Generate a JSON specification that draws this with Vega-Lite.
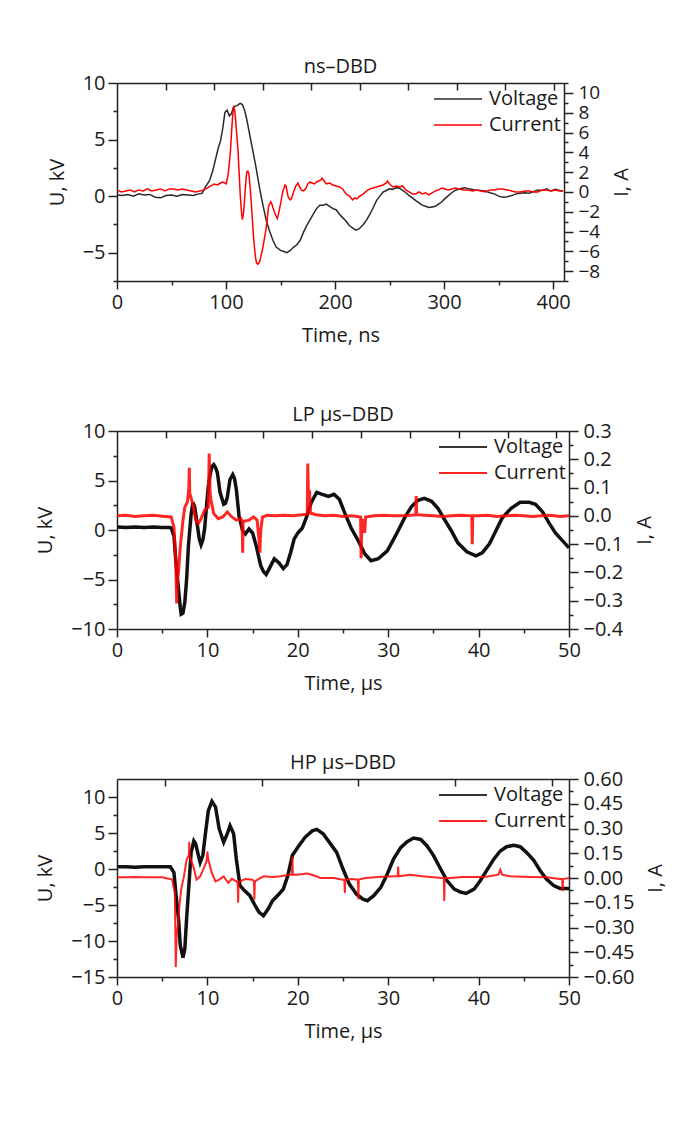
{
  "$schema": "https://vega.github.io/schema/vega-lite/v6.json",
  "background": "white",
  "autosize": {"type": "pad"},
  "padding": {"left": 35, "top": 57, "right": 5, "bottom": 5},
  "datasets": {
    "ns_v": [
      {"t":0,"v":0.1},{"t":5,"v":0.05},{"t":10,"v":0.15},{"t":15,"v":0.0},{"t":20,"v":0.2},{"t":25,"v":0.1},{"t":30,"v":0.15},{"t":35,"v":-0.1},{"t":40,"v":-0.15},{"t":45,"v":0.05},{"t":50,"v":0.1},{"t":55,"v":0.0},{"t":60,"v":0.15},{"t":65,"v":0.1},{"t":70,"v":0.05},{"t":75,"v":0.2},{"t":78,"v":0.25},{"t":81,"v":0.8},{"t":85,"v":1.4},{"t":88,"v":2.3},{"t":91,"v":3.5},{"t":93,"v":4.3},{"t":95,"v":4.9},{"t":97,"v":6.0},{"t":99,"v":7.4},{"t":101,"v":7.6},{"t":103,"v":7.1},{"t":105,"v":7.3},{"t":107,"v":7.9},{"t":110,"v":8.0},{"t":113,"v":8.2},{"t":115,"v":8.1},{"t":117,"v":7.6},{"t":119,"v":6.8},{"t":121,"v":5.8},{"t":123,"v":4.8},{"t":125,"v":3.8},{"t":127,"v":2.8},{"t":129,"v":1.7},{"t":131,"v":0.6},{"t":133,"v":-0.4},{"t":135,"v":-1.3},{"t":137,"v":-2.2},{"t":140,"v":-3.1},{"t":143,"v":-3.9},{"t":146,"v":-4.5},{"t":150,"v":-4.8},{"t":153,"v":-4.9},{"t":156,"v":-5.0},{"t":159,"v":-4.8},{"t":162,"v":-4.5},{"t":165,"v":-4.3},{"t":168,"v":-3.9},{"t":171,"v":-3.2},{"t":174,"v":-2.6},{"t":177,"v":-2.1},{"t":180,"v":-1.6},{"t":183,"v":-1.1},{"t":186,"v":-0.8},{"t":189,"v":-0.8},{"t":192,"v":-0.7},{"t":195,"v":-0.9},{"t":198,"v":-1.1},{"t":201,"v":-1.2},{"t":204,"v":-1.6},{"t":207,"v":-1.9},{"t":210,"v":-2.2},{"t":213,"v":-2.6},{"t":216,"v":-2.8},{"t":219,"v":-3.0},{"t":222,"v":-2.9},{"t":226,"v":-2.5},{"t":229,"v":-2.1},{"t":232,"v":-1.6},{"t":235,"v":-1.0},{"t":238,"v":-0.4},{"t":241,"v":0.0},{"t":244,"v":0.35},{"t":247,"v":0.5},{"t":250,"v":0.65},{"t":253,"v":0.6},{"t":256,"v":0.75},{"t":259,"v":0.7},{"t":262,"v":0.5},{"t":265,"v":0.3},{"t":268,"v":0.05},{"t":271,"v":-0.15},{"t":274,"v":-0.4},{"t":277,"v":-0.6},{"t":280,"v":-0.8},{"t":283,"v":-0.9},{"t":286,"v":-1.0},{"t":289,"v":-0.95},{"t":292,"v":-0.9},{"t":295,"v":-0.7},{"t":298,"v":-0.5},{"t":301,"v":-0.2},{"t":304,"v":0.05},{"t":307,"v":0.3},{"t":310,"v":0.5},{"t":313,"v":0.6},{"t":316,"v":0.7},{"t":319,"v":0.75},{"t":322,"v":0.65},{"t":325,"v":0.6},{"t":328,"v":0.55},{"t":333,"v":0.5},{"t":338,"v":0.45},{"t":342,"v":0.3},{"t":346,"v":0.2},{"t":350,"v":0.0},{"t":354,"v":-0.1},{"t":358,"v":-0.05},{"t":362,"v":0.05},{"t":366,"v":0.2},{"t":370,"v":0.25},{"t":374,"v":0.3},{"t":378,"v":0.25},{"t":382,"v":0.4},{"t":386,"v":0.55},{"t":390,"v":0.5},{"t":394,"v":0.65},{"t":398,"v":0.45},{"t":402,"v":0.6},{"t":406,"v":0.5},{"t":409,"v":0.45}
    ],
    "ns_i": [
      {"t":0,"v":0.2},{"t":4,"v":0.0},{"t":8,"v":0.1},{"t":12,"v":0.2},{"t":16,"v":0.0},{"t":20,"v":0.2},{"t":24,"v":0.1},{"t":28,"v":0.3},{"t":32,"v":0.1},{"t":36,"v":0.2},{"t":40,"v":0.3},{"t":44,"v":0.1},{"t":48,"v":0.3},{"t":52,"v":0.3},{"t":56,"v":0.2},{"t":60,"v":0.3},{"t":64,"v":0.2},{"t":68,"v":0.1},{"t":72,"v":0.0},{"t":76,"v":0.1},{"t":80,"v":0.2},{"t":83,"v":0.4},{"t":86,"v":0.6},{"t":89,"v":0.8},{"t":92,"v":0.7},{"t":95,"v":0.9},{"t":97,"v":1.0},{"t":99,"v":0.9},{"t":100,"v":0.8},{"t":101,"v":1.2},{"t":102,"v":1.8},{"t":104,"v":4.0},{"t":105,"v":5.9},{"t":106,"v":7.6},{"t":107,"v":8.7},{"t":108,"v":8.2},{"t":109,"v":7.0},{"t":110,"v":5.6},{"t":111,"v":4.2},{"t":112,"v":2.0},{"t":113,"v":-0.2},{"t":114,"v":-1.8},{"t":115,"v":-2.8},{"t":116,"v":-2.2},{"t":117,"v":-0.8},{"t":118,"v":0.8},{"t":119,"v":2.0},{"t":120,"v":2.1},{"t":121,"v":1.8},{"t":122,"v":0.6},{"t":123,"v":-0.8},{"t":124,"v":-2.5},{"t":125,"v":-4.2},{"t":126,"v":-5.5},{"t":127,"v":-6.6},{"t":128,"v":-7.2},{"t":129,"v":-7.3},{"t":130,"v":-7.2},{"t":131,"v":-7.0},{"t":132,"v":-6.5},{"t":134,"v":-5.5},{"t":136,"v":-4.2},{"t":137,"v":-3.5},{"t":138,"v":-2.5},{"t":139,"v":-1.5},{"t":140,"v":-1.2},{"t":141,"v":-1.0},{"t":142,"v":-1.2},{"t":143,"v":-1.6},{"t":145,"v":-2.2},{"t":147,"v":-2.7},{"t":148,"v":-2.3},{"t":150,"v":-1.2},{"t":152,"v":0.0},{"t":154,"v":0.7},{"t":155,"v":0.6},{"t":157,"v":-0.5},{"t":159,"v":-0.8},{"t":160,"v":-0.7},{"t":162,"v":0.0},{"t":164,"v":0.6},{"t":166,"v":0.9},{"t":167,"v":0.6},{"t":169,"v":0.2},{"t":171,"v":0.1},{"t":173,"v":0.3},{"t":175,"v":0.8},{"t":177,"v":1.0},{"t":179,"v":0.9},{"t":181,"v":0.8},{"t":183,"v":1.0},{"t":185,"v":1.1},{"t":187,"v":1.2},{"t":188,"v":1.4},{"t":190,"v":1.1},{"t":192,"v":0.8},{"t":195,"v":0.9},{"t":198,"v":0.7},{"t":201,"v":0.6},{"t":204,"v":0.5},{"t":207,"v":0.3},{"t":210,"v":-0.2},{"t":213,"v":-0.4},{"t":216,"v":-0.8},{"t":218,"v":-0.6},{"t":220,"v":-0.7},{"t":223,"v":-0.4},{"t":226,"v":-0.2},{"t":229,"v":0.1},{"t":232,"v":0.3},{"t":235,"v":0.4},{"t":238,"v":0.5},{"t":241,"v":0.6},{"t":244,"v":0.7},{"t":247,"v":0.9},{"t":248,"v":1.1},{"t":250,"v":0.8},{"t":253,"v":0.5},{"t":256,"v":0.6},{"t":259,"v":0.5},{"t":262,"v":0.6},{"t":265,"v":0.2},{"t":268,"v":0.0},{"t":271,"v":-0.2},{"t":274,"v":-0.2},{"t":277,"v":0.0},{"t":280,"v":-0.2},{"t":283,"v":-0.1},{"t":286,"v":-0.3},{"t":289,"v":-0.1},{"t":292,"v":0.1},{"t":295,"v":0.2},{"t":298,"v":0.4},{"t":301,"v":0.3},{"t":304,"v":0.2},{"t":307,"v":0.3},{"t":310,"v":0.4},{"t":314,"v":0.3},{"t":318,"v":0.2},{"t":322,"v":0.2},{"t":326,"v":0.1},{"t":330,"v":0.2},{"t":334,"v":0.1},{"t":338,"v":0.0},{"t":342,"v":0.2},{"t":346,"v":0.2},{"t":350,"v":0.3},{"t":354,"v":0.3},{"t":358,"v":0.2},{"t":362,"v":0.1},{"t":366,"v":0.0},{"t":370,"v":0.0},{"t":374,"v":0.1},{"t":378,"v":0.1},{"t":382,"v":0.0},{"t":386,"v":0.0},{"t":390,"v":0.2},{"t":394,"v":0.2},{"t":398,"v":0.1},{"t":402,"v":0.2},{"t":406,"v":0.1},{"t":409,"v":0.1}
    ],
    "lp_v": [
      {"t":0,"v":0.3},{"t":1,"v":0.25},{"t":2,"v":0.3},{"t":3,"v":0.25},{"t":4,"v":0.3},{"t":5,"v":0.25},{"t":5.8,"v":0.25},{"t":6.0,"v":0.2},{"t":6.3,"v":-0.6},{"t":6.5,"v":-3.0},{"t":6.8,"v":-6.0},{"t":7.0,"v":-7.8},{"t":7.1,"v":-8.5},{"t":7.3,"v":-8.4},{"t":7.5,"v":-7.3},{"t":7.7,"v":-5.0},{"t":7.9,"v":-1.6},{"t":8.2,"v":1.6},{"t":8.4,"v":2.8},{"t":8.6,"v":2.3},{"t":8.9,"v":0.4},{"t":9.1,"v":-0.9},{"t":9.3,"v":-1.5},{"t":9.5,"v":-1.0},{"t":9.7,"v":0.2},{"t":9.9,"v":2.4},{"t":10.1,"v":4.4},{"t":10.3,"v":5.6},{"t":10.5,"v":6.4},{"t":10.7,"v":6.6},{"t":10.9,"v":6.3},{"t":11.1,"v":5.8},{"t":11.4,"v":3.8},{"t":11.8,"v":2.6},{"t":12.0,"v":2.7},{"t":12.2,"v":3.3},{"t":12.5,"v":5.1},{"t":12.8,"v":5.6},{"t":13.0,"v":5.2},{"t":13.2,"v":4.1},{"t":13.5,"v":1.4},{"t":13.9,"v":-0.1},{"t":14.2,"v":-0.4},{"t":14.6,"v":0.1},{"t":15.0,"v":-0.3},{"t":15.4,"v":-1.6},{"t":15.9,"v":-3.6},{"t":16.2,"v":-4.2},{"t":16.5,"v":-4.5},{"t":16.9,"v":-3.8},{"t":17.4,"v":-2.9},{"t":17.9,"v":-3.3},{"t":18.4,"v":-3.9},{"t":18.8,"v":-3.5},{"t":19.2,"v":-2.3},{"t":19.6,"v":-0.9},{"t":20.0,"v":-0.3},{"t":20.5,"v":0.2},{"t":21.0,"v":1.4},{"t":21.5,"v":2.8},{"t":22.1,"v":3.8},{"t":22.7,"v":3.6},{"t":23.4,"v":3.4},{"t":24.0,"v":3.6},{"t":24.6,"v":3.1},{"t":25.2,"v":1.7},{"t":25.9,"v":0.2},{"t":26.7,"v":-1.1},{"t":27.4,"v":-2.4},{"t":28.1,"v":-3.1},{"t":28.9,"v":-2.9},{"t":29.9,"v":-2.1},{"t":30.8,"v":-0.6},{"t":31.8,"v":1.2},{"t":32.6,"v":2.4},{"t":33.3,"v":3.0},{"t":34.0,"v":3.2},{"t":34.8,"v":2.9},{"t":35.5,"v":2.2},{"t":36.2,"v":1.1},{"t":37.0,"v":-0.1},{"t":37.7,"v":-1.3},{"t":38.7,"v":-2.2},{"t":39.7,"v":-2.6},{"t":40.4,"v":-2.3},{"t":41.2,"v":-1.4},{"t":41.9,"v":-0.1},{"t":42.6,"v":1.2},{"t":43.6,"v":2.2},{"t":44.6,"v":2.8},{"t":45.6,"v":2.8},{"t":46.3,"v":2.6},{"t":47.1,"v":1.8},{"t":47.8,"v":0.7},{"t":48.5,"v":-0.3},{"t":49.3,"v":-1.1},{"t":50,"v":-1.8}
    ],
    "lp_i": [
      {"t":0,"v":0.0},{"t":1,"v":0.002},{"t":2,"v":-0.002},{"t":3,"v":0.0},{"t":4,"v":0.002},{"t":5,"v":-0.001},{"t":6.0,"v":-0.004},{"t":6.3,"v":-0.04},{"t":6.5,"v":-0.16},{"t":6.6,"v":-0.31},{"t":6.7,"v":-0.22},{"t":6.8,"v":-0.2},{"t":7.0,"v":-0.11},{"t":7.3,"v":-0.015},{"t":7.5,"v":0.03},{"t":7.8,"v":0.05},{"t":7.95,"v":0.1},{"t":8.0,"v":0.17},{"t":8.05,"v":0.08},{"t":8.4,"v":0.04},{"t":8.7,"v":-0.015},{"t":9.0,"v":-0.027},{"t":9.3,"v":-0.01},{"t":9.7,"v":0.02},{"t":10.1,"v":0.03},{"t":10.2,"v":0.22},{"t":10.3,"v":0.08},{"t":10.4,"v":0.055},{"t":10.7,"v":0.008},{"t":11.2,"v":-0.01},{"t":11.7,"v":-0.004},{"t":12.2,"v":0.014},{"t":12.7,"v":-0.004},{"t":13.2,"v":-0.015},{"t":13.7,"v":-0.01},{"t":13.85,"v":-0.02},{"t":13.9,"v":-0.13},{"t":13.95,"v":-0.02},{"t":14.6,"v":-0.015},{"t":15.1,"v":-0.004},{"t":15.5,"v":-0.015},{"t":15.7,"v":-0.08},{"t":15.8,"v":-0.13},{"t":15.9,"v":-0.05},{"t":16.1,"v":-0.004},{"t":16.6,"v":0.002},{"t":17.5,"v":0.0},{"t":18.5,"v":0.002},{"t":19.5,"v":0.0},{"t":20.5,"v":0.004},{"t":21.05,"v":0.006},{"t":21.1,"v":0.185},{"t":21.2,"v":0.02},{"t":21.3,"v":0.09},{"t":21.4,"v":0.01},{"t":22,"v":0.004},{"t":23,"v":0.0},{"t":24,"v":0.002},{"t":25,"v":-0.002},{"t":26,"v":0.0},{"t":26.95,"v":-0.004},{"t":27.0,"v":-0.15},{"t":27.1,"v":-0.01},{"t":27.4,"v":-0.06},{"t":27.5,"v":-0.004},{"t":28.5,"v":0.0},{"t":29.5,"v":0.002},{"t":30.5,"v":0.0},{"t":31.5,"v":0.0},{"t":32.5,"v":0.002},{"t":33.05,"v":0.004},{"t":33.1,"v":0.07},{"t":33.15,"v":0.004},{"t":34,"v":0.002},{"t":35,"v":0.0},{"t":36,"v":-0.002},{"t":37,"v":0.0},{"t":38,"v":0.002},{"t":39.25,"v":0.0},{"t":39.3,"v":-0.1},{"t":39.35,"v":0.0},{"t":40,"v":0.0},{"t":41,"v":0.002},{"t":42,"v":-0.002},{"t":43,"v":0.0},{"t":44,"v":0.002},{"t":45,"v":0.0},{"t":46,"v":-0.002},{"t":47,"v":0.0},{"t":48,"v":0.002},{"t":49,"v":-0.002},{"t":50,"v":0.0}
    ],
    "hp_v": [
      {"t":0,"v":0.3},{"t":1,"v":0.3},{"t":2,"v":0.25},{"t":3,"v":0.3},{"t":4,"v":0.3},{"t":5,"v":0.3},{"t":5.9,"v":0.3},{"t":6.3,"v":-0.5},{"t":6.5,"v":-3.2},{"t":6.8,"v":-6.9},{"t":7.0,"v":-10.6},{"t":7.3,"v":-12.3},{"t":7.5,"v":-11.1},{"t":7.7,"v":-6.9},{"t":8.0,"v":-1.4},{"t":8.2,"v":2.3},{"t":8.5,"v":3.9},{"t":8.7,"v":3.5},{"t":9.0,"v":1.9},{"t":9.2,"v":0.9},{"t":9.5,"v":1.9},{"t":9.8,"v":5.1},{"t":10.1,"v":8.1},{"t":10.5,"v":9.4},{"t":10.9,"v":8.6},{"t":11.3,"v":5.6},{"t":11.8,"v":3.7},{"t":12.2,"v":4.9},{"t":12.5,"v":6.0},{"t":12.9,"v":4.9},{"t":13.2,"v":1.4},{"t":13.6,"v":-2.3},{"t":14.1,"v":-3.0},{"t":14.7,"v":-3.7},{"t":15.2,"v":-4.9},{"t":15.7,"v":-6.0},{"t":16.2,"v":-6.5},{"t":16.7,"v":-5.6},{"t":17.2,"v":-4.4},{"t":17.9,"v":-3.5},{"t":18.4,"v":-2.8},{"t":18.9,"v":-0.9},{"t":19.4,"v":1.9},{"t":20.1,"v":3.2},{"t":20.8,"v":4.4},{"t":21.6,"v":5.3},{"t":22.1,"v":5.5},{"t":22.8,"v":4.9},{"t":23.5,"v":3.7},{"t":24.3,"v":2.3},{"t":25.0,"v":0.0},{"t":25.7,"v":-2.1},{"t":26.5,"v":-3.5},{"t":27.2,"v":-4.2},{"t":27.7,"v":-4.4},{"t":28.4,"v":-3.7},{"t":29.2,"v":-2.5},{"t":29.9,"v":-0.7},{"t":30.6,"v":1.4},{"t":31.4,"v":3.0},{"t":32.1,"v":3.8},{"t":32.8,"v":4.3},{"t":33.6,"v":4.1},{"t":34.3,"v":3.2},{"t":35.0,"v":1.9},{"t":35.8,"v":0.0},{"t":36.5,"v":-1.6},{"t":37.3,"v":-2.8},{"t":38.0,"v":-3.2},{"t":38.6,"v":-3.4},{"t":39.5,"v":-2.8},{"t":40.2,"v":-1.6},{"t":40.9,"v":-0.2},{"t":41.7,"v":1.4},{"t":42.4,"v":2.5},{"t":43.1,"v":3.1},{"t":43.9,"v":3.3},{"t":44.6,"v":3.1},{"t":45.3,"v":2.3},{"t":46.1,"v":1.2},{"t":46.8,"v":-0.2},{"t":47.5,"v":-1.4},{"t":48.3,"v":-2.3},{"t":49.0,"v":-2.7},{"t":50,"v":-2.7}
    ],
    "hp_i": [
      {"t":0,"v":0.005},{"t":1,"v":0.004},{"t":2,"v":0.006},{"t":3,"v":0.004},{"t":4,"v":0.005},{"t":5,"v":0.005},{"t":6.1,"v":-0.01},{"t":6.4,"v":-0.09},{"t":6.5,"v":-0.54},{"t":6.6,"v":-0.35},{"t":6.7,"v":-0.3},{"t":6.9,"v":-0.17},{"t":7.1,"v":-0.07},{"t":7.4,"v":0.01},{"t":7.7,"v":0.11},{"t":7.95,"v":0.14},{"t":8.0,"v":0.22},{"t":8.05,"v":0.13},{"t":8.5,"v":0.06},{"t":8.8,"v":-0.01},{"t":9.2,"v":0.01},{"t":9.6,"v":0.06},{"t":9.9,"v":0.1},{"t":10.0,"v":0.16},{"t":10.1,"v":0.11},{"t":10.5,"v":0.03},{"t":10.9,"v":-0.02},{"t":11.3,"v":-0.01},{"t":11.8,"v":0.01},{"t":12.3,"v":-0.03},{"t":12.7,"v":-0.005},{"t":13.2,"v":-0.02},{"t":13.35,"v":-0.03},{"t":13.4,"v":-0.15},{"t":13.45,"v":-0.03},{"t":13.6,"v":-0.02},{"t":14.2,"v":-0.006},{"t":15.0,"v":-0.01},{"t":15.15,"v":-0.02},{"t":15.2,"v":-0.13},{"t":15.25,"v":-0.02},{"t":15.7,"v":-0.006},{"t":16.2,"v":0.01},{"t":17.2,"v":0.006},{"t":18.1,"v":0.01},{"t":19.1,"v":0.02},{"t":19.35,"v":0.02},{"t":19.4,"v":0.13},{"t":19.45,"v":0.02},{"t":19.9,"v":0.02},{"t":21.1,"v":0.027},{"t":21.8,"v":0.015},{"t":22.5,"v":0.0},{"t":24.0,"v":0.0},{"t":25.0,"v":-0.01},{"t":25.15,"v":-0.01},{"t":25.2,"v":-0.09},{"t":25.25,"v":-0.01},{"t":26.0,"v":-0.006},{"t":26.65,"v":-0.01},{"t":26.7,"v":-0.13},{"t":26.75,"v":-0.01},{"t":27.5,"v":0.0},{"t":28.9,"v":0.006},{"t":30.6,"v":0.01},{"t":31.05,"v":0.01},{"t":31.1,"v":0.07},{"t":31.15,"v":0.01},{"t":32.4,"v":0.02},{"t":33.8,"v":0.01},{"t":35.9,"v":0.0},{"t":36.15,"v":0.0},{"t":36.2,"v":-0.14},{"t":36.25,"v":0.0},{"t":36.8,"v":0.0},{"t":38.2,"v":0.006},{"t":40.7,"v":0.006},{"t":42.2,"v":0.02},{"t":42.4,"v":0.05},{"t":42.6,"v":0.02},{"t":43.5,"v":0.01},{"t":45.6,"v":0.006},{"t":47.5,"v":0.004},{"t":49.0,"v":-0.006},{"t":49.25,"v":-0.006},{"t":49.3,"v":-0.08},{"t":49.35,"v":-0.006},{"t":50,"v":0.0}
    ]
  },
  "spacing": 150,
  "bounds": "flush",
  "resolve": {"scale": {"color": "independent"}, "legend": {"color": "independent"}},
  "vconcat": [
    {
      "title": "ns–DBD",
      "width": 447,
      "height": 198,
      "layer": [
        {
          "data": {"name": "ns_v"},
          "mark": {"type": "line", "strokeWidth": 1.5},
          "encoding": {
            "x": {"field": "t", "type": "quantitative", "scale": {"domain": [0, 410], "nice": false, "zero": false},
              "axis": {"orient": "bottom", "title": "Time, ns", "values": [0,50,100,150,200,250,300,350,400],
                "labelExpr": "datum.value % 100 === 0 ? datum.label : ''",
                "tickSize": {"condition": {"test": "datum.value % 100 === 0", "value": 8}, "value": 4}}},
            "y": {"field": "v", "type": "quantitative", "scale": {"domain": [-7.5, 10], "nice": false, "zero": false},
              "axis": {"orient": "left", "title": "U, kV", "values": [-7.5,-5,-2.5,0,2.5,5,7.5,10],
                "labelExpr": "datum.value % 5 === 0 ? datum.label : ''",
                "tickSize": {"condition": {"test": "datum.value % 5 === 0", "value": 9}, "value": 4}}},
            "color": {"datum": "Voltage", "type": "nominal", "scale": {"domain": ["Voltage", "Current"], "range": ["#2a2a2a", "#ff0000"]},
              "legend": {"orient": "top-right", "title": null, "symbolStrokeWidth": 1.5}}
          }
        },
        {
          "data": {"name": "ns_i"},
          "mark": {"type": "line", "strokeWidth": 1.5},
          "encoding": {
            "x": {"field": "t", "type": "quantitative", "scale": {"domain": [0, 410], "nice": false, "zero": false},
              "axis": {"orient": "top", "title": null, "labels": false, "values": [44.5,89,133.5,178,222.5,267,311.5,356,400.5], "tickSize": -7}},
            "y": {"field": "v", "type": "quantitative", "scale": {"domain": [-9, 11], "nice": false, "zero": false},
              "axis": {"orient": "right", "title": "I, A", "labelFontSize": 19, "values": [-9,-8,-7,-6,-5,-4,-3,-2,-1,0,1,2,3,4,5,6,7,8,9,10,11],
                "labelExpr": "datum.value % 2 === 0 ? datum.label : ''",
                "tickSize": {"condition": {"test": "datum.value % 2 === 0", "value": 9}, "value": 4}}},
            "color": {"datum": "Current", "type": "nominal"}
          }
        }
      ],
      "resolve": {"scale": {"y": "independent"}, "axis": {"x": "independent", "y": "independent"}}
    },
    {
      "title": "LP µs–DBD",
      "width": 452,
      "height": 198,
      "layer": [
        {
          "data": {"name": "lp_v"},
          "mark": {"type": "line", "strokeWidth": 3.5},
          "encoding": {
            "x": {"field": "t", "type": "quantitative", "scale": {"domain": [0, 50], "nice": false, "zero": false},
              "axis": {"orient": "bottom", "title": "Time, µs", "values": [0,5,10,15,20,25,30,35,40,45,50],
                "labelExpr": "datum.value % 10 === 0 ? datum.label : ''",
                "tickSize": {"condition": {"test": "datum.value % 10 === 0", "value": 8}, "value": 4}}},
            "y": {"field": "v", "type": "quantitative", "scale": {"domain": [-10, 10], "nice": false, "zero": false},
              "axis": {"orient": "left", "title": "U, kV", "values": [-10,-7.5,-5,-2.5,0,2.5,5,7.5,10],
                "labelExpr": "datum.value % 5 === 0 ? datum.label : ''",
                "tickSize": {"condition": {"test": "datum.value % 5 === 0", "value": 9}, "value": 4}}},
            "color": {"datum": "Voltage", "type": "nominal", "scale": {"domain": ["Voltage", "Current"], "range": ["#111111", "#ff0000"]},
              "legend": {"orient": "top-right", "title": null, "symbolStrokeWidth": 2}}
          }
        },
        {
          "data": {"name": "lp_i"},
          "mark": {"type": "line", "strokeWidth": 3, "opacity": 0.85},
          "encoding": {
            "x": {"field": "t", "type": "quantitative", "scale": {"domain": [0, 50], "nice": false, "zero": false},
              "axis": {"orient": "top", "title": null, "labels": false, "values": [5.4,10.8,16.2,21.6,27,32.4,37.8,43.2,48.6], "tickSize": -7}},
            "y": {"field": "v", "type": "quantitative", "scale": {"domain": [-0.4, 0.3], "nice": false, "zero": false},
              "axis": {"orient": "right", "title": "I, A", "format": ".1f", "values": [-0.4,-0.35,-0.3,-0.25,-0.2,-0.15,-0.1,-0.05,0,0.05,0.1,0.15,0.2,0.25,0.3],
                "labelExpr": "abs(round(datum.value*100)) % 10 === 0 ? datum.label : ''",
                "tickSize": {"condition": {"test": "abs(round(datum.value*100)) % 10 === 0", "value": 9}, "value": 4}}},
            "color": {"datum": "Current", "type": "nominal"}
          }
        }
      ],
      "resolve": {"scale": {"y": "independent"}, "axis": {"x": "independent", "y": "independent"}}
    },
    {
      "title": "HP µs–DBD",
      "width": 452,
      "height": 198,
      "layer": [
        {
          "data": {"name": "hp_v"},
          "mark": {"type": "line", "strokeWidth": 3.5},
          "encoding": {
            "x": {"field": "t", "type": "quantitative", "scale": {"domain": [0, 50], "nice": false, "zero": false},
              "axis": {"orient": "bottom", "title": "Time, µs", "values": [0,5,10,15,20,25,30,35,40,45,50],
                "labelExpr": "datum.value % 10 === 0 ? datum.label : ''",
                "tickSize": {"condition": {"test": "datum.value % 10 === 0", "value": 8}, "value": 4}}},
            "y": {"field": "v", "type": "quantitative", "scale": {"domain": [-15, 12.5], "nice": false, "zero": false},
              "axis": {"orient": "left", "title": "U, kV", "values": [-15,-12.5,-10,-7.5,-5,-2.5,0,2.5,5,7.5,10],
                "labelExpr": "datum.value % 5 === 0 ? datum.label : ''",
                "tickSize": {"condition": {"test": "datum.value % 5 === 0", "value": 9}, "value": 4}}},
            "color": {"datum": "Voltage", "type": "nominal", "scale": {"domain": ["Voltage", "Current"], "range": ["#111111", "#ff0000"]},
              "legend": {"orient": "top-right", "title": null, "symbolStrokeWidth": 2}}
          }
        },
        {
          "data": {"name": "hp_i"},
          "mark": {"type": "line", "strokeWidth": 2, "opacity": 0.85},
          "encoding": {
            "x": {"field": "t", "type": "quantitative", "scale": {"domain": [0, 50], "nice": false, "zero": false},
              "axis": {"orient": "top", "title": null, "labels": false, "values": [5.3,16,26.7,37.4,48.1], "tickSize": -7}},
            "y": {"field": "v", "type": "quantitative", "scale": {"domain": [-0.6, 0.6], "nice": false, "zero": false},
              "axis": {"orient": "right", "title": "I, A", "format": ".2f", "values": [-0.6,-0.525,-0.45,-0.375,-0.3,-0.225,-0.15,-0.075,0,0.075,0.15,0.225,0.3,0.375,0.45,0.525,0.6],
                "labelExpr": "abs(round(datum.value*1000)) % 150 === 0 ? datum.label : ''",
                "tickSize": {"condition": {"test": "abs(round(datum.value*1000)) % 150 === 0", "value": 9}, "value": 4}}},
            "color": {"datum": "Current", "type": "nominal"}
          }
        }
      ],
      "resolve": {"scale": {"y": "independent"}, "axis": {"x": "independent", "y": "independent"}}
    }
  ],
  "config": {
    "font": "Open Sans",
    "view": {"stroke": null},
    "axis": {
      "domainColor": "#222222", "domainWidth": 1.5, "tickColor": "#222222", "tickWidth": 1.5,
      "labelFont": "Open Sans", "labelFontSize": 20, "labelColor": "#1a1a1a", "labelPadding": 3,
      "labelFlush": false, "labelOverlap": false,
      "titleFont": "Open Sans", "titleFontSize": 20, "titleFontWeight": "normal", "titleColor": "#1a1a1a",
      "grid": false
    },
    "axisLeft": {"titlePadding": 15},
    "axisRight": {"titlePadding": 12, "titleAngle": 270, "titleBaseline": "top", "labelPadding": 5},
    "axisBottom": {"titlePadding": 13},
    "title": {"font": "Open Sans", "fontSize": 20, "fontWeight": "normal", "color": "#1a1a1a", "offset": -4, "anchor": "middle"},
    "legend": {
      "symbolType": "M-2,0H2", "symbolSize": 576, "labelOffset": 18, "rowPadding": 3,
      "labelFont": "Open Sans", "labelFontSize": 20, "labelColor": "#1a1a1a", "offset": 3, "padding": 0
    }
  }
}
